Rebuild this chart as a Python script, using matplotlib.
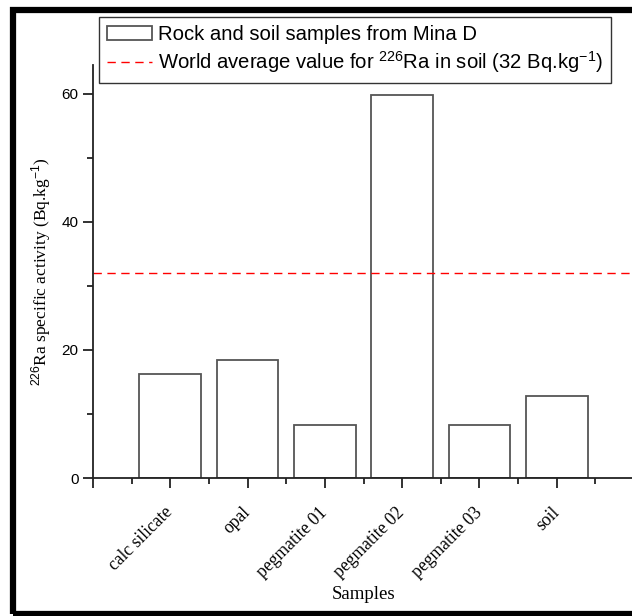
import matplotlib
matplotlib.use("Agg")
import matplotlib.pyplot as plt
from matplotlib.patches import Rectangle
from matplotlib.ticker import MultipleLocator
import numpy as np

plt.rcParams["mathtext.fontset"] = "custom"
plt.rcParams["mathtext.rm"] = "Liberation Sans"
plt.rcParams["mathtext.it"] = "Liberation Sans:italic"

# amostras e atividade específica de Ra-226 (Bq/kg)
amostras = ["calc silicate", "opal", "pegmatite 01", "pegmatite 02", "pegmatite 03", "soil"]
atividade = [16.2, 18.4, 8.3, 59.8, 8.3, 12.8]
media_mundial = 32

fig = plt.figure(figsize=(6.32, 6.16), dpi=100)
ax = fig.add_axes([93 / 632, 1 - 478 / 616, (634 - 93) / 632, (478 - 65) / 616])

x = np.arange(1, len(amostras) + 1)
barras = ax.bar(x, atividade, width=0.8, facecolor="white", edgecolor="#555555",
                linewidth=1.3, label="Rock and soil samples from Mina D")
linha = ax.axhline(media_mundial, color="red", linestyle=(0, (6, 4)), linewidth=1.0,
                   label=r"World average value for $^{226}$Ra in soil (32 Bq.kg$^{-1}$)")

# eixos
ax.set_xlim(0, 7)
ax.set_ylim(0, 64.5)
ax.spines["top"].set_visible(False)
ax.spines["right"].set_visible(False)
for s in ("left", "bottom"):
    ax.spines[s].set_linewidth(1.3)
    ax.spines[s].set_color("#222222")

ax.xaxis.set_major_locator(MultipleLocator(1))
ax.xaxis.set_minor_locator(MultipleLocator(0.5))
ax.yaxis.set_major_locator(MultipleLocator(20))
ax.yaxis.set_minor_locator(MultipleLocator(10))
ax.tick_params(which="major", direction="out", length=7, width=1.3, color="#222222")
ax.tick_params(which="minor", direction="out", length=4, width=1.3, color="#222222")
ax.tick_params(axis="y", labelsize=11)
ax.tick_params(axis="x", which="major", pad=16)

ax.set_xticks(np.arange(0, 8))
ax.set_xticklabels([""] + amostras + [""], rotation=45, ha="right", va="center",
                   rotation_mode="anchor", family="Liberation Serif", fontsize=12.7)
for lbl in ax.get_yticklabels():
    lbl.set_family("Liberation Sans")

ax.set_xlabel("Samples", family="Liberation Serif", fontsize=13.5, labelpad=4)
ax.set_ylabel(r"$^{226}$Ra specific activity (Bq.kg$^{-1}$)",
              family="Liberation Serif", fontsize=12.5, labelpad=6)

# legenda no topo
leg = fig.legend(handles=[barras, linha], loc="upper left",
                 bbox_to_anchor=(99 / 632, 1 - 17 / 616), bbox_transform=fig.transFigure,
                 prop={"family": "Liberation Sans", "size": 14.6},
                 frameon=True, fancybox=False, framealpha=1, edgecolor="#333333",
                 handlelength=2.2, handletextpad=0.3, borderpad=0.4, labelspacing=0.25,
                 borderaxespad=0)
leg.get_frame().set_linewidth(1.0)

# moldura preta em volta da figura
fig.patches.append(Rectangle((13 / 632, 1 - 614 / 616), 1.0, (614 - 10) / 616,
                             transform=fig.transFigure, fill=False, edgecolor="black",
                             linewidth=4.5, clip_on=False))

plt.savefig("out.png", dpi=100)
